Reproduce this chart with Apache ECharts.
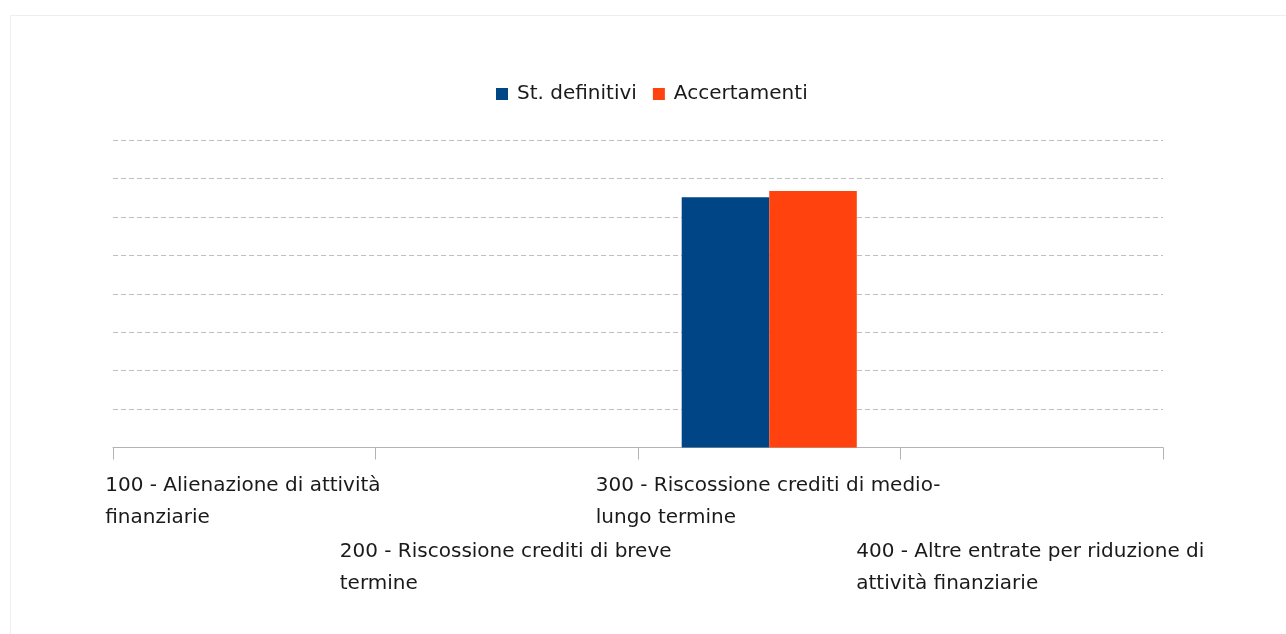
<!DOCTYPE html>
<html>
<head>
<meta charset="utf-8">
<script src="https://cdn.jsdelivr.net/npm/echarts@6/dist/echarts.min.js"></script>
<style>
  html, body { margin: 0; padding: 0; background: #fff; overflow: hidden; }
  #frame { position: absolute; left: 10px; top: 15px; width: 1400px; height: 800px; border: 1px solid #eeeeee; box-sizing: border-box; }
  #chart { position: absolute; left: 0; top: 0; width: 1286px; height: 634px; }
</style>
</head>
<body>
<div id="frame"></div>
<div id="chart"></div>
<script>
const categories = [
  "100 - Alienazione di attività\nfinanziarie",
  "200 - Riscossione crediti di breve\ntermine",
  "300 - Riscossione crediti di medio-\nlungo termine",
  "400 - Altre entrate per riduzione di\nattività finanziarie"
];
const seriesNames = ["St. definitivi", "Accertamenti"];
const stDefinitivi = [0, 0, 6.52, 0];
const accertamenti = [0, 0, 6.68, 0];

const FONT = "DejaVu Sans";
const FSIZE = 20;
const ctx = document.createElement('canvas').getContext('2d');
ctx.font = FSIZE + 'px "' + FONT + '"';
function blockWidth(text) {
  return Math.ceil(Math.max.apply(null, text.split('\n').map(l => ctx.measureText(l).width))) + 2;
}
const rich = { gap: { lineHeight: 66, fontSize: 4 } };
categories.forEach((c, i) => {
  rich['L' + i] = { width: blockWidth(c), align: 'left', lineHeight: 32, fontSize: FSIZE, fontFamily: FONT, color: '#1a1a1a' };
});

const chart = echarts.init(document.getElementById('chart'));
chart.setOption({
  animation: false,
  backgroundColor: 'transparent',
  color: ['#004586', '#ff420e'],
  legend: {
    data: seriesNames,
    left: 496,
    top: 84,
    padding: 0,
    icon: 'rect',
    itemWidth: 12,
    itemHeight: 12,
    itemGap: 16,
    textStyle: { fontFamily: FONT, fontSize: FSIZE, color: '#1a1a1a', padding: [0, 0, 0, 4] }
  },
  grid: { left: 113, right: 123, top: 140.3, bottom: 186.5 },
  xAxis: {
    type: 'category',
    data: categories,
    axisLine: { lineStyle: { color: '#b3b3b3', width: 1 } },
    axisTick: { show: true, length: 12, lineStyle: { color: '#b3b3b3' } },
    axisLabel: {
      interval: 0,
      margin: 22,
      rich: rich,
      formatter: function (value, index) {
        const lines = value.split('\n').map(l => '{L' + index + '|' + l + '}');
        return (index % 2 === 1 ? '{gap| }\n' : '') + lines.join('\n');
      }
    }
  },
  yAxis: {
    type: 'value',
    min: 0,
    max: 8,
    interval: 1,
    axisLine: { show: false },
    axisTick: { show: false },
    axisLabel: { show: false },
    splitLine: { show: true, lineStyle: { color: '#c0c0c0', type: [5, 3], width: 1 } }
  },
  series: [
    { name: seriesNames[0], type: 'bar', data: stDefinitivi, barGap: '0%', barCategoryGap: '33.3%' },
    { name: seriesNames[1], type: 'bar', data: accertamenti, barGap: '0%', barCategoryGap: '33.3%' }
  ]
});
</script>
</body>
</html>
